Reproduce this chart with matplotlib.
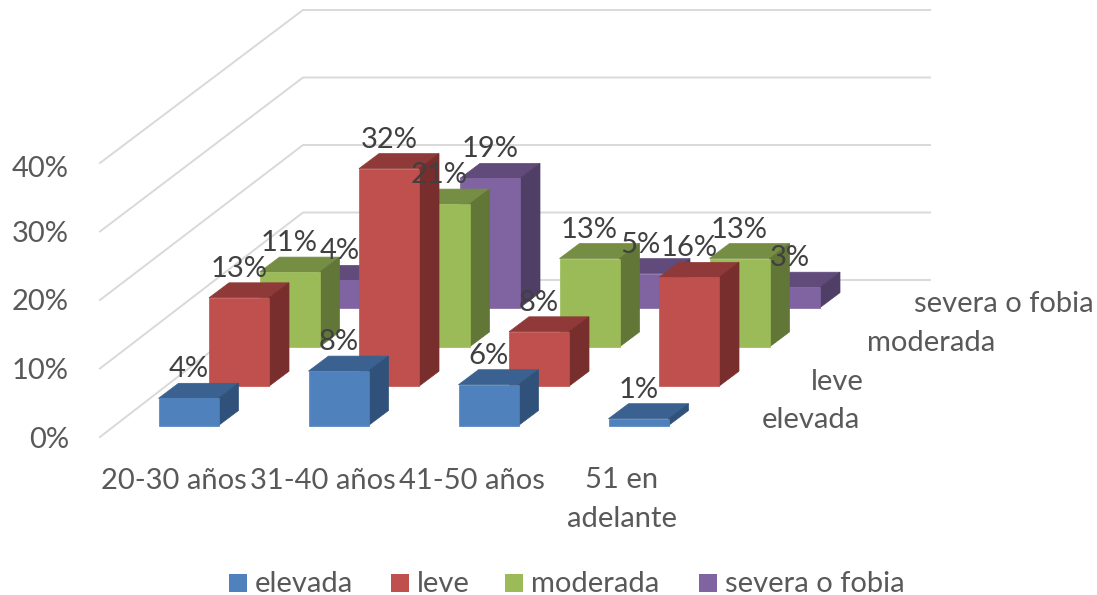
import matplotlib
matplotlib.use('Agg')
import matplotlib.pyplot as plt
from matplotlib.patches import Polygon, Rectangle
from matplotlib.transforms import Affine2D

plt.rcParams['font.family'] = ['Lato', 'DejaVu Sans']

# values in percent, one list per series (front row first)
categories = ['20-30 años', '31-40 años', '41-50 años', '51 en\nadelante']
series_names = ['elevada', 'leve', 'moderada', 'severa o fobia']
elevada = [4, 8, 6, 1]
leve = [13, 32, 8, 16]
moderada = [11, 21, 13, 13]
severa = [4, 19, 5, 3]
series_values = [elevada, leve, moderada, severa]
value_ticks = [0, 10, 20, 30, 40]

front = ['#4F81BD', '#C0504D', '#9BBB59', '#8064A2']
top = ['#3A618F', '#8F3A38', '#758E43', '#604B7B']
side = ['#30527A', '#772E2C', '#617637', '#4F3E66']
text_col = '#595959'
label_col = '#404040'
FS = 21

W, H = 1097, 595
PX_X = 150.0   # pixels per category
PX_Y = 6.8     # pixels per percent
X0, Y0 = 158.5, 425.5   # pixel position of first bar, front row, value 0

fig = plt.figure(figsize=(W / 100, H / 100), dpi=100)
ax = fig.add_axes([0, 0, 1, 1])
ax.set_xlim((0 - X0) / PX_X, (W - X0) / PX_X)
ax.set_ylim((Y0 - H) / PX_Y, Y0 / PX_Y)
ax.axis('off')

# pixel coords for text placement, origin top left
px = Affine2D().scale(1, -1).translate(0, H)

BAR_W = 60 / PX_X
ROW_DX, ROW_DY = 50.5 / PX_X, 39.3 / PX_Y
DEP_DX, DEP_DY = 20 / PX_X, 15 / PX_Y

# walls, the back wall comes out a bit shorter than the front edge
fx, fy = (100 - X0) / PX_X, (Y0 - 437) / PX_Y
bx, by = (303 - X0) / PX_X, (Y0 - 280) / PX_Y
ex = (930 - X0) / PX_X
for v in value_ticks:
    ax.plot([fx, bx, ex], [fy + v * 6.85 / PX_Y, by + v * 6.75 / PX_Y, by + v * 6.75 / PX_Y],
            color='#D9D9D9', lw=1.4, zorder=1, solid_joinstyle='miter')

# bars, back row first so the front ones cover them
for row in range(3, -1, -1):
    for i, v in enumerate(series_values[row]):
        x = i + row * ROW_DX
        y = row * ROW_DY
        xr = x + BAR_W
        yt = y + v
        ax.add_patch(Polygon([(x, yt), (xr, yt), (xr + DEP_DX, yt + DEP_DY), (x + DEP_DX, yt + DEP_DY)],
                             fc=top[row], ec=top[row], lw=0.5, zorder=2 + 3 - row))
        ax.add_patch(Polygon([(xr, y), (xr + DEP_DX, y + DEP_DY), (xr + DEP_DX, yt + DEP_DY), (xr, yt)],
                             fc=side[row], ec=side[row], lw=0.5, zorder=2 + 3 - row))
        ax.add_patch(Rectangle((x, y), BAR_W, v, fc=front[row], ec=front[row], lw=0.5,
                               zorder=2 + 3 - row))

# data labels on top of everything
for row in range(4):
    for i, v in enumerate(series_values[row]):
        ax.text(i + row * ROW_DX + BAR_W / 2, row * ROW_DY + v + 29 / PX_Y, '%d%%' % v,
                fontsize=FS, color=label_col, ha='center', va='center', zorder=10)

# value axis
for v, yp in zip(value_ticks, [440, 371, 302, 234, 169]):
    ax.text(69, yp, '%d%%' % v, transform=px, fontsize=FS, color=text_col, ha='right', va='center')

# category axis
for c, xp in zip(categories[:3], [174, 323, 472]):
    ax.text(xp, 481, c, transform=px, fontsize=FS, color=text_col, ha='center', va='center')
ax.text(622, 480, categories[3].split('\n')[0], transform=px, fontsize=FS, color=text_col, ha='center', va='center')
ax.text(622, 519, categories[3].split('\n')[1], transform=px, fontsize=FS, color=text_col, ha='center', va='center')

# depth axis
for name, xp, yp in zip(series_names, [860, 864, 995, 1094], [420, 382, 343, 304]):
    ax.text(xp, yp, name, transform=px, fontsize=FS, color=text_col, ha='right', va='center')

# legend
for name, col, xs in zip(series_names, front, [229, 391, 505, 699]):
    ax.add_patch(Rectangle((xs, 574), 18, 18, fc=col, ec='none', transform=px))
    ax.text(xs + 26, 584, name, transform=px, fontsize=FS, color=text_col, ha='left', va='center')

fig.savefig('out.png', dpi=100)
